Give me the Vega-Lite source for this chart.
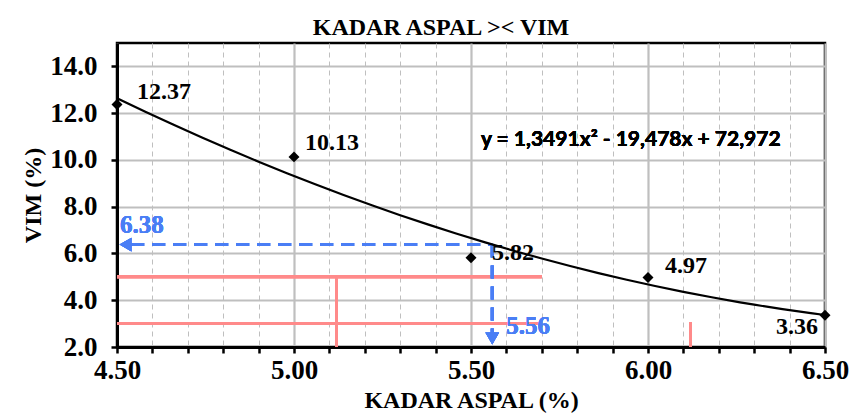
{
  "$schema": "https://vega.github.io/schema/vega-lite/v6.json",
  "autosize": {"type": "none"},
  "width": 708,
  "height": 304,
  "padding": {"left": 117, "top": 43, "right": 27, "bottom": 70},
  "background": "white",
  "config": {
    "view": {"stroke": "black", "strokeWidth": 2.5},
    "font": "Liberation Serif"
  },
  "title": {
    "text": "KADAR ASPAL >< VIM",
    "font": "Liberation Serif",
    "fontSize": 24,
    "fontWeight": "bold",
    "color": "black",
    "anchor": "middle",
    "dx": -30,
    "offset": 3
  },
  "data": {
    "values": [
      {"kadar": 4.5, "vim": 12.37},
      {"kadar": 5.0, "vim": 10.13},
      {"kadar": 5.5, "vim": 5.82},
      {"kadar": 6.0, "vim": 4.97},
      {"kadar": 6.5, "vim": 3.36}
    ]
  },
  "encoding": {
    "x": {
      "field": "kadar",
      "type": "quantitative",
      "scale": {"domain": [4.5, 6.5], "nice": false, "zero": false},
      "axis": {
        "title": "KADAR ASPAL (%)",
        "values": [4.5, 4.6, 4.7, 4.8, 4.9, 5.0, 5.1, 5.2, 5.3, 5.4, 5.5, 5.6, 5.7, 5.8, 5.9, 6.0, 6.1, 6.2, 6.3, 6.4, 6.5],
        "labelExpr": "round(datum.value*10) % 5 === 0 ? format(datum.value, '.2f') : ''",
        "labelFont": "Liberation Serif",
        "labelFontSize": 27,
        "labelFontWeight": "bold",
        "labelColor": "black",
        "labelPadding": 4,
        "labelFlush": false,
        "labelOverlap": false,
        "tickSize": 6,
        "tickWidth": 2.5,
        "tickColor": "black",
        "domainColor": "black",
        "domainWidth": 3,
        "grid": true,
        "gridColor": "#BFBFBF",
        "gridWidth": {"condition": {"test": "round(datum.value*10) % 5 === 0", "value": 2.2}, "value": 1},
        "gridDash": {"condition": {"test": "round(datum.value*10) % 5 === 0", "value": []}, "value": [5, 4]},
        "titleFont": "Liberation Serif",
        "titleFontSize": 24,
        "titleFontWeight": "bold",
        "titleColor": "black",
        "titlePadding": 5
      }
    },
    "y": {
      "field": "vim",
      "type": "quantitative",
      "scale": {"domain": [2, 15], "nice": false, "zero": false},
      "axis": {
        "title": "VIM (%)",
        "values": [2, 4, 6, 8, 10, 12, 14],
        "format": ".1f",
        "labelFont": "Liberation Serif",
        "labelFontSize": 27,
        "labelFontWeight": "bold",
        "labelColor": "black",
        "labelPadding": 14,
        "labelFlush": false,
        "tickSize": 6,
        "tickWidth": 2.5,
        "tickColor": "black",
        "domainColor": "black",
        "domainWidth": 3,
        "grid": true,
        "gridColor": "#BFBFBF",
        "gridWidth": 2.2,
        "titleFont": "Liberation Serif",
        "titleFontSize": 24,
        "titleFontWeight": "bold",
        "titleColor": "black",
        "titlePadding": 4
      }
    }
  },
  "layer": [
    {
      "mark": {"type": "rule", "color": "#FF8A8A", "strokeWidth": 3},
      "encoding": {
        "x": {"datum": 4.5}, "x2": {"datum": 5.7},
        "y": {"datum": 5}, "y2": {"datum": 5}
      }
    },
    {
      "mark": {"type": "rule", "color": "#FF8A8A", "strokeWidth": 3},
      "encoding": {
        "x": {"datum": 4.5}, "x2": {"datum": 5.7},
        "y": {"datum": 3}, "y2": {"datum": 3}
      }
    },
    {
      "mark": {"type": "rule", "color": "#FF8A8A", "strokeWidth": 3},
      "encoding": {
        "x": {"datum": 5.12}, "x2": {"datum": 5.12},
        "y": {"datum": 2}, "y2": {"datum": 5}
      }
    },
    {
      "mark": {"type": "rule", "color": "#FF8A8A", "strokeWidth": 3},
      "encoding": {
        "x": {"datum": 6.12}, "x2": {"datum": 6.12},
        "y": {"datum": 2}, "y2": {"datum": 3.05}
      }
    },
    {
      "mark": {"type": "rule", "color": "#4A7EF5", "strokeWidth": 3, "strokeDash": [13, 8]},
      "encoding": {
        "x": {"datum": 4.54}, "x2": {"datum": 5.56},
        "y": {"datum": 6.38}, "y2": {"datum": 6.38}
      }
    },
    {
      "mark": {"type": "rule", "color": "#4A7EF5", "strokeWidth": 3, "strokeDash": [13, 8]},
      "encoding": {
        "x": {"datum": 5.56}, "x2": {"datum": 5.56},
        "y": {"datum": 6.38}, "y2": {"datum": 2.6}
      }
    },
    {
      "mark": {"type": "point", "shape": "triangle-left", "filled": true, "color": "#4A7EF5", "opacity": 1, "size": 190},
      "encoding": {"x": {"datum": 4.524}, "y": {"datum": 6.38}}
    },
    {
      "mark": {"type": "point", "shape": "triangle-down", "filled": true, "color": "#4A7EF5", "opacity": 1, "size": 190},
      "encoding": {"x": {"datum": 5.56}, "y": {"datum": 2.36}}
    },
    {
      "mark": {"type": "text", "align": "left", "baseline": "middle", "font": "Liberation Serif", "fontSize": 25, "fontWeight": "bold", "color": "#4A7EF5", "dx": 3, "dy": -20},
      "encoding": {"x": {"datum": 4.5}, "y": {"datum": 6.38}, "text": {"value": "6.38"}}
    },
    {
      "mark": {"type": "text", "align": "left", "baseline": "middle", "font": "Liberation Serif", "fontSize": 25, "fontWeight": "bold", "color": "#4A7EF5", "dx": 14, "dy": -21},
      "encoding": {"x": {"datum": 5.56}, "y": {"datum": 2}, "text": {"value": "5.56"}}
    },
    {
      "transform": [{"regression": "vim", "on": "kadar", "method": "poly", "order": 2, "extent": [4.5, 6.5]}],
      "mark": {"type": "line", "color": "black", "strokeWidth": 2.2, "clip": true}
    },
    {
      "mark": {"type": "point", "shape": "diamond", "filled": true, "color": "black", "opacity": 1, "size": 120}
    },
    {
      "transform": [{"filter": "datum.kadar === 4.5"}],
      "mark": {"type": "text", "align": "left", "baseline": "middle", "font": "Liberation Serif", "fontSize": 24, "fontWeight": "bold", "color": "black", "dx": 20, "dy": -13},
      "encoding": {"text": {"field": "vim", "type": "quantitative", "format": ".2f"}}
    },
    {
      "transform": [{"filter": "datum.kadar === 5.0"}],
      "mark": {"type": "text", "align": "left", "baseline": "middle", "font": "Liberation Serif", "fontSize": 24, "fontWeight": "bold", "color": "black", "dx": 11, "dy": -14},
      "encoding": {"text": {"field": "vim", "type": "quantitative", "format": ".2f"}}
    },
    {
      "transform": [{"filter": "datum.kadar === 5.5"}],
      "mark": {"type": "text", "align": "left", "baseline": "middle", "font": "Liberation Serif", "fontSize": 24, "fontWeight": "bold", "color": "black", "dx": 21, "dy": -5},
      "encoding": {"text": {"field": "vim", "type": "quantitative", "format": ".2f"}}
    },
    {
      "transform": [{"filter": "datum.kadar === 6.0"}],
      "mark": {"type": "text", "align": "left", "baseline": "middle", "font": "Liberation Serif", "fontSize": 24, "fontWeight": "bold", "color": "black", "dx": 17, "dy": -12},
      "encoding": {"text": {"field": "vim", "type": "quantitative", "format": ".2f"}}
    },
    {
      "transform": [{"filter": "datum.kadar === 6.5"}],
      "mark": {"type": "text", "align": "right", "baseline": "middle", "font": "Liberation Serif", "fontSize": 24, "fontWeight": "bold", "color": "black", "dx": -7, "dy": 12},
      "encoding": {"text": {"field": "vim", "type": "quantitative", "format": ".2f"}}
    },
    {
      "mark": {"type": "text", "align": "left", "baseline": "middle", "font": "Lato", "fontSize": 21, "fontWeight": "bold", "color": "black"},
      "encoding": {"x": {"datum": 5.528}, "y": {"datum": 10.87}, "text": {"value": "y = 1,3491x² - 19,478x + 72,972"}}
    }
  ]
}
